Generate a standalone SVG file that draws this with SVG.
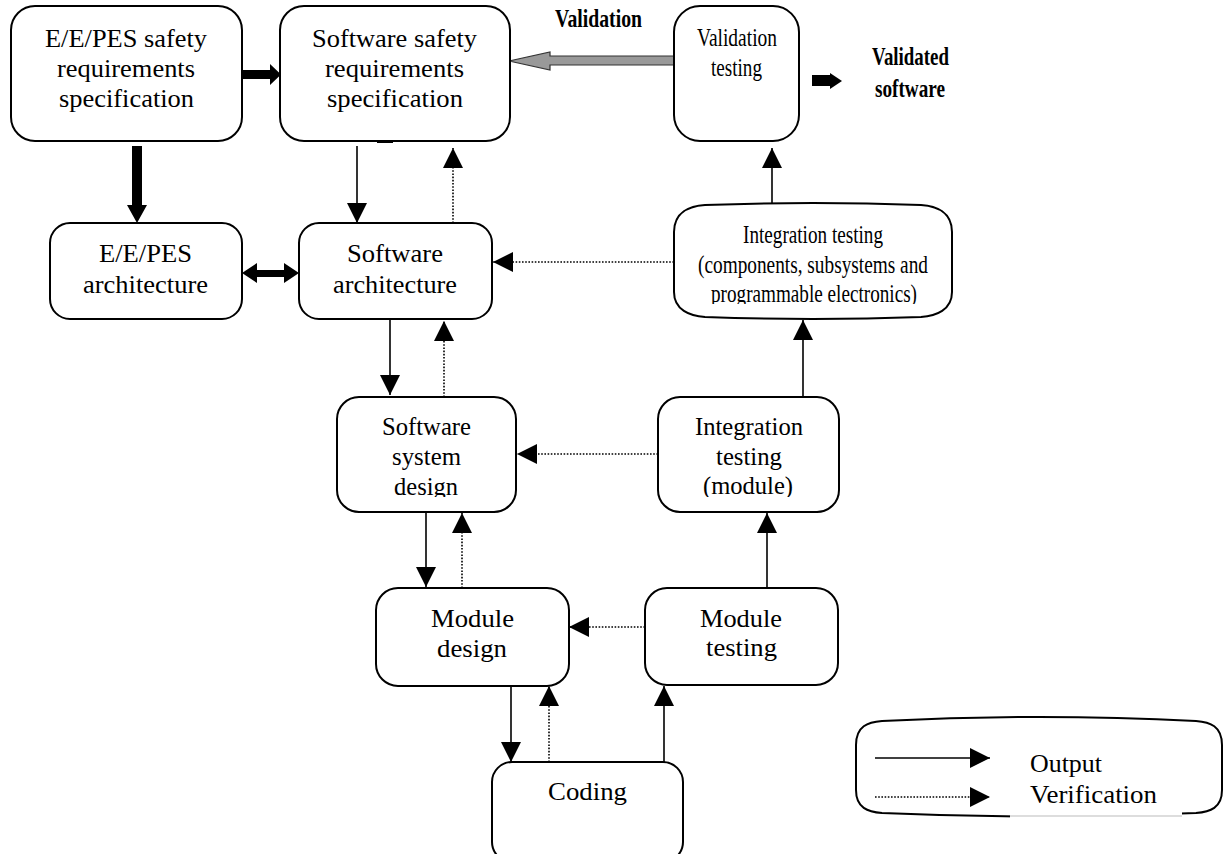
<svg xmlns="http://www.w3.org/2000/svg" width="1223" height="854" viewBox="0 0 1223 854">
<style>
.box{fill:#fff;stroke:#000;stroke-width:2}
.t{font-family:"Liberation Serif","Times New Roman",serif;font-size:26px;fill:#000;text-anchor:middle}
.b{font-weight:bold}
.s{fill:none;stroke:#000;stroke-width:1.6}
.d{fill:none;stroke:#000;stroke-width:1.6;stroke-dasharray:1.6 1.6}
.blk{fill:#000;stroke:none}
</style>
<defs>
<marker id="ah" viewBox="0 0 20 20" refX="20" refY="10" markerWidth="20" markerHeight="20" markerUnits="userSpaceOnUse" orient="auto">
<path d="M0,0 L20,10 L0,20 Z" fill="#000"/>
</marker>
<clipPath id="c1"><rect x="0" y="0" width="1223" height="304"/></clipPath>
<clipPath id="c2"><rect x="0" y="0" width="1223" height="497"/></clipPath>
</defs>

<g id="connectors">
<path class="s" d="M357,146 V223" marker-end="url(#ah)"/>
<path class="d" d="M453,223 V148" marker-end="url(#ah)"/>
<path class="d" d="M674,262 H493" marker-end="url(#ah)"/>
<path class="s" d="M772,204 V148" marker-end="url(#ah)"/>
<path class="s" d="M390,319 V395" marker-end="url(#ah)"/>
<path class="d" d="M444,397 V321" marker-end="url(#ah)"/>
<path class="s" d="M803,397 V320" marker-end="url(#ah)"/>
<path class="d" d="M658,454 H517" marker-end="url(#ah)"/>
<path class="s" d="M426,512 V587" marker-end="url(#ah)"/>
<path class="d" d="M462,588 V513" marker-end="url(#ah)"/>
<path class="s" d="M767,588 V513" marker-end="url(#ah)"/>
<path class="d" d="M645,627 H569" marker-end="url(#ah)"/>
<path class="s" d="M511,686 V762" marker-end="url(#ah)"/>
<path class="d" d="M549,762 V686" marker-end="url(#ah)"/>
<path class="s" d="M664,762 V686" marker-end="url(#ah)"/>
<polygon class="blk" points="242,70 270,70 270,64 281,74.5 270,85 270,79 242,79"/>
<polygon class="blk" points="132,146 142,146 142,205 147,205 137,223 127,205 132,205"/>
<polygon class="blk" points="242,273 257,263 257,270 284,270 284,263 299,273 284,283 284,277 257,277 257,283"/>
<polygon points="509,61 550,52 550,56 674,56 674,65 550,65 550,70" fill="#999" stroke="#333" stroke-width="1.2"/>
<polygon class="blk" points="812,75 830,75 830,73 842,81 830,89 830,86 812,86"/>
</g>

<g id="n1">
<rect class="box" x="11" y="6" width="231" height="135" rx="24" ry="24"/>
<text class="t" x="126" y="47" textLength="162" lengthAdjust="spacingAndGlyphs">E/E/PES safety</text>
<text class="t" x="126" y="77" textLength="138" lengthAdjust="spacingAndGlyphs">requirements</text>
<text class="t" x="126.5" y="107" textLength="135" lengthAdjust="spacingAndGlyphs">specification</text>
</g>

<g id="n2">
<rect class="box" x="280" y="6" width="230" height="135" rx="24" ry="24"/>
<line x1="377" y1="142" x2="393" y2="142" stroke="#000" stroke-width="2"/>
<text class="t" x="394.5" y="47" textLength="165" lengthAdjust="spacingAndGlyphs">Software safety</text>
<text class="t" x="394.5" y="77" textLength="139" lengthAdjust="spacingAndGlyphs">requirements</text>
<text class="t" x="395" y="107" textLength="136" lengthAdjust="spacingAndGlyphs">specification</text>
</g>

<g id="n3">
<rect class="box" x="50" y="223" width="192" height="96" rx="20" ry="20"/>
<text class="t" x="145.5" y="262" textLength="93" lengthAdjust="spacingAndGlyphs">E/E/PES</text>
<text class="t" x="145.5" y="293" textLength="125" lengthAdjust="spacingAndGlyphs">architecture</text>
</g>

<g id="n4">
<rect class="box" x="299" y="223" width="193" height="96" rx="20" ry="20"/>
<text class="t" x="395" y="262" textLength="96" lengthAdjust="spacingAndGlyphs">Software</text>
<text class="t" x="395" y="293" textLength="124" lengthAdjust="spacingAndGlyphs">architecture</text>
</g>

<g id="n5">
<rect class="box" x="674" y="6" width="125" height="135" rx="26" ry="26"/>
<text class="t" x="737" y="46" textLength="80" lengthAdjust="spacingAndGlyphs">Validation</text>
<text class="t" x="736.5" y="76" textLength="51" lengthAdjust="spacingAndGlyphs">testing</text>
</g>

<g id="lbl-validation">
<text class="t b" x="598.5" y="27" textLength="87" lengthAdjust="spacingAndGlyphs">Validation</text>
</g>

<g id="lbl-validated">
<text class="t b" x="910.5" y="65" textLength="77" lengthAdjust="spacingAndGlyphs">Validated</text>
<text class="t b" x="910" y="97" textLength="70" lengthAdjust="spacingAndGlyphs">software</text>
</g>

<g id="n6">
<path class="box" d="M674,232 C674,212 690,206 705,205 Q813,201 921,205 C936,206 952,212 952,232 L952,292 C952,310 936,316 921,317 Q813,321 705,317 C690,316 674,310 674,292 Z"/>
<text class="t" x="813" y="243" textLength="140" lengthAdjust="spacingAndGlyphs">Integration testing</text>
<text class="t" x="813" y="273" textLength="230" lengthAdjust="spacingAndGlyphs">(components, subsystems and</text>
<text class="t" x="814" y="302" textLength="206" lengthAdjust="spacingAndGlyphs" clip-path="url(#c1)">programmable electronics)</text>
</g>

<g id="n7">
<rect class="box" x="337" y="397" width="179" height="115" rx="22" ry="22"/>
<text class="t" x="426.5" y="435" textLength="89" lengthAdjust="spacingAndGlyphs">Software</text>
<text class="t" x="426.5" y="465" textLength="69" lengthAdjust="spacingAndGlyphs">system</text>
<text class="t" x="426" y="495" textLength="64" lengthAdjust="spacingAndGlyphs" clip-path="url(#c2)">design</text>
</g>

<g id="n8">
<rect class="box" x="658" y="397" width="181" height="115" rx="22" ry="22"/>
<text class="t" x="749" y="435" textLength="108" lengthAdjust="spacingAndGlyphs">Integration</text>
<text class="t" x="749" y="465" textLength="66" lengthAdjust="spacingAndGlyphs">testing</text>
<text class="t" x="748" y="494" textLength="90" lengthAdjust="spacingAndGlyphs" clip-path="url(#c2)">(module)</text>
</g>

<g id="n9">
<rect class="box" x="376" y="588" width="193" height="98" rx="22" ry="22"/>
<text class="t" x="472.5" y="627" textLength="83" lengthAdjust="spacingAndGlyphs">Module</text>
<text class="t" x="472" y="657" textLength="70" lengthAdjust="spacingAndGlyphs">design</text>
</g>

<g id="n10">
<rect class="box" x="645" y="588" width="193" height="97" rx="22" ry="22"/>
<text class="t" x="741" y="627" textLength="82" lengthAdjust="spacingAndGlyphs">Module</text>
<text class="t" x="741.5" y="656" textLength="71" lengthAdjust="spacingAndGlyphs">testing</text>
</g>

<g id="n11">
<rect class="box" x="492" y="762" width="191" height="100" rx="20" ry="20"/>
<text class="t" x="587.5" y="800" textLength="79" lengthAdjust="spacingAndGlyphs">Coding</text>
</g>

<g id="legend">
<path class="box" d="M856,745 C856,726 868,722 882,721 Q1039,713 1196,721 C1210,722 1222,726 1222,745 L1222,790 C1222,808 1210,812 1196,813 Q1039,820 882,813 C868,812 856,808 856,790 Z"/>
<rect x="1010" y="812" width="172" height="8" fill="#fff"/>
<line x1="1010" y1="816" x2="1182" y2="816" stroke="#bbb" stroke-width="1"/>
<path class="s" d="M875,758 H990" marker-end="url(#ah)"/>
<path class="d" d="M875,797 H990" marker-end="url(#ah)"/>
<text class="t" x="1030" y="772" style="text-anchor:start" textLength="72" lengthAdjust="spacingAndGlyphs">Output</text>
<text class="t" x="1030" y="803" style="text-anchor:start" textLength="127" lengthAdjust="spacingAndGlyphs">Verification</text>
</g>
</svg>
